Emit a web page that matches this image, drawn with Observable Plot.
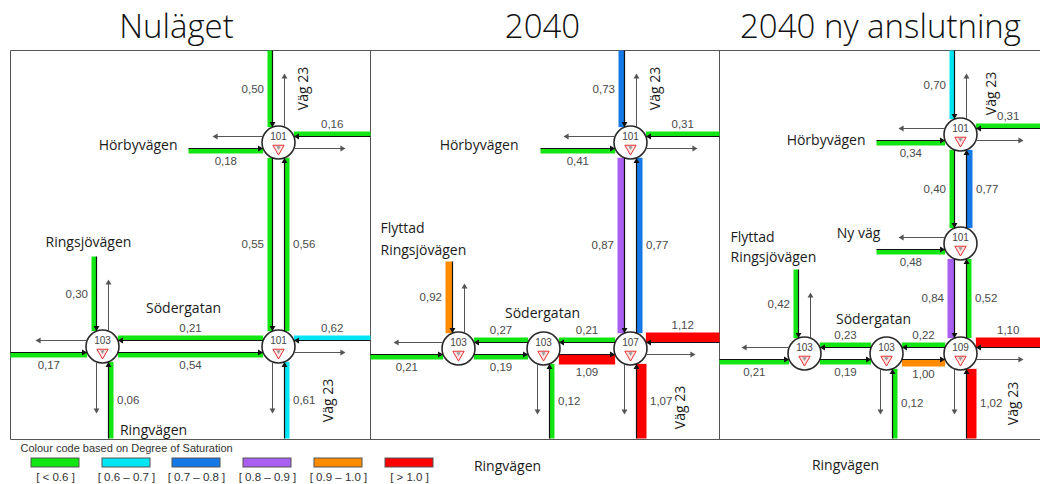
<!DOCTYPE html>
<html><head><meta charset="utf-8">
<script src="https://cdn.jsdelivr.net/npm/d3@7"></script>
<script src="https://cdn.jsdelivr.net/npm/@observablehq/plot@0.6"></script>
<style>body{margin:0;background:#fff}</style>
</head><body><div id="chart"></div>
<script>
// ================= DATA =================
const panelTitles = ["Nuläget", "2040", "2040 ny anslutning"];

// junctions
const nodeIds   = ["1A","1B","1C","2A","2B","2C","2D","3A","3B","3C","3D","3E"];
const nodeNames = ["101","101","103","101","103","103","107","101","101","103","103","109"];

// approaches: junction, side, degree of saturation of the inbound lane
const approachNode  = ["1A","1A","1A","1B","1B","1C","1C","1C",
                       "2A","2A","2A","2D","2D","2C","2B","2B",
                       "3A","3A","3A","3B","3E","3E","3D","3C","3C"];
const approachSide  = ["N","W","E","E","S","N","W","S",
                       "N","W","E","E","S","S","N","W",
                       "N","W","E","W","E","S","S","N","W"];
const approachValue = [0.50,0.18,0.16,0.62,0.61,0.30,0.17,0.06,
                       0.73,0.41,0.31,1.12,1.07,0.12,0.92,0.21,
                       0.70,0.34,0.31,0.48,1.10,1.02,0.12,0.42,0.21];

// links between junctions (from -> to) with degree of saturation
const linkFrom  = ["1A","1B","1B","1C", "2A","2D","2D","2C","2C","2B", "3A","3B","3B","3E","3E","3D","3D","3C"];
const linkTo    = ["1B","1A","1C","1B", "2D","2A","2C","2D","2B","2C", "3B","3A","3E","3B","3D","3E","3C","3D"];
const linkValue = [0.55,0.56,0.21,0.54, 0.87,0.77,0.21,1.09,0.27,0.19, 0.40,0.77,0.84,0.52,0.22,1.00,0.23,0.19];

// road names
const roadNames = ["Hörbyvägen","Ringsjövägen","Södergatan","Ringvägen","Väg 23","Väg 23",
                   "Hörbyvägen","Flyttad","Ringsjövägen","Södergatan","Ringvägen","Väg 23","Väg 23",
                   "Hörbyvägen","Ny väg","Flyttad","Ringsjövägen","Södergatan","Ringvägen","Väg 23","Väg 23"];

// legend
const legendTitle = "Colour code based on Degree of Saturation";
const dosLabels = ["[ < 0.6 ]","[ 0.6 – 0.7 ]","[ 0.7 – 0.8 ]","[ 0.8 – 0.9 ]","[ 0.9 – 1.0 ]","[ > 1.0 ]"];
const dosThresholds = [0.6, 0.7, 0.8, 0.9, 1.0];

// ================= LAYOUT / STYLE =================
const dosColors = ["#12e612","#00e6f5","#1478e6","#a95ff0","#ff8c00","#ff0000"];
const bandWidth = [5,5,6,7,7,10];
const panelEdges = [10, 370, 719, 1040];
const frameTop = 50, frameBottom = 439;
const titleX = [176, 542, 880];
const nodeX = [278,278,102, 630,458,543,630, 960,960,804,886,960];
const nodeY = [142,346,346, 142,348,348,348, 134,243,353,353,353];
const approachFar    = [50,188,370,370,438,256,10,438,
                        50,540,719,719,438,438,261,370,
                        50,876,1040,876,1040,438,438,269,719];
const approachOutEnd = [73,212,345,345,413,279,35,413,
                        73,563,697,695,414,414,283,393,
                        73,898,1023,898,1023,414,414,292,741];
const roadX = [177,88,183,153,303,328, 518,380,380,542,507,655,680, 865,858,730,730,873,845,991,1013];
const roadY = [145,242,308,430,88,400, 145,228,250,313,466,88,407, 140,233,237,257,319,465,93,403];
const roadAnchor = ["end","middle","middle","middle","middle","middle",
                    "end","start","start","middle","middle","middle","middle",
                    "end","middle","start","start","middle","middle","middle","middle"];
const legendX = [31,102,172,243,314,385];

// ================= GEOMETRY =================
const L = 6, R = 16.5, H = Math.sqrt(R*R - L*L), TIP = 3.4;
const cat = v => d3.bisectLeft(dosThresholds, v);
const fmt = v => v.toFixed(2).replace(".", ",");
const dirVec = {down:[0,1], up:[0,-1], east:[1,0], west:[-1,0]};
const dirRot = {up:0, east:90, down:180, west:270};
const node = id => { const i = nodeIds.indexOf(id); return {x: nodeX[i], y: nodeY[i]}; };
function seg(dir, fixed, a, b) {
  return (dir === "down" || dir === "up")
    ? {dir, x1: fixed, x2: fixed, y1: a, y2: b}
    : {dir, y1: fixed, y2: fixed, x1: a, x2: b};
}
const lanes = [], outs = [];
approachNode.forEach((id, i) => {
  const {x: cx, y: cy} = node(id);
  const s = approachSide[i], f = approachFar[i], o = approachOutEnd[i];
  let inn, out;
  if (s === "N") { inn = seg("down", cx - L, f, cy - H); out = seg("up", cx + L, cy - H, o); }
  if (s === "S") { inn = seg("up", cx + L, f, cy + H); out = seg("down", cx - L, cy + H, o); }
  if (s === "W") { inn = seg("east", cy + L, f, cx - H); out = seg("west", cy - L, cx - H, o); }
  if (s === "E") { inn = seg("west", cy - L, f, cx + H); out = seg("east", cy + L, cx + H, o); }
  lanes.push({...inn, value: approachValue[i]});
  outs.push(out);
});
linkFrom.forEach((a, i) => {
  const A = node(a), B = node(linkTo[i]);
  let s;
  if (B.y > A.y) s = seg("down", A.x - L, A.y + H, B.y - H);
  else if (B.y < A.y) s = seg("up", A.x + L, A.y - H, B.y + H);
  else if (B.x > A.x) s = seg("east", A.y + L, A.x + H, B.x - H);
  else s = seg("west", A.y - L, A.x - H, B.x + H);
  lanes.push({...s, value: linkValue[i]});
});
function tipify(d) {
  const [ux, uy] = dirVec[d.dir];
  d.ex = d.x2 - ux * TIP; d.ey = d.y2 - uy * TIP; d.rot = dirRot[d.dir];
  return d;
}
lanes.forEach(d => {
  tipify(d);
  d.cat = cat(d.value); d.w = bandWidth[d.cat];
  const [ux, uy] = dirVec[d.dir];
  const nx = -uy, ny = ux;
  const off = d.w / 2;
  d.bx1 = d.x1 + nx * off; d.bx2 = d.x2 + nx * off;
  d.by1 = d.y1 + ny * off; d.by2 = d.y2 + ny * off;
  d.label = fmt(d.value);
  const mx = (d.x1 + d.x2) / 2, my = (d.y1 + d.y2) / 2;
  if (nx !== 0) { d.lx = d.x1 + nx * (d.w + 3.5); d.ly = my; d.anchor = nx < 0 ? "end" : "start"; }
  else { d.lx = mx; d.ly = d.y1 + ny * (d.w + 7.5); d.anchor = "middle"; }
});
outs.forEach(tipify);
const nodes = nodeIds.map((id, i) => ({id, name: nodeNames[i], x: nodeX[i], y: nodeY[i]}));
const frame = [
  {x1: panelEdges[0], y1: frameTop, x2: panelEdges[3], y2: frameTop},
  {x1: panelEdges[0], y1: frameBottom, x2: panelEdges[3], y2: frameBottom},
  ...panelEdges.slice(0, 3).map(x => ({x1: x, y1: frameTop, x2: x, y2: frameBottom}))
];
const roads = roadNames.map((t, i) => ({t, x: roadX[i], y: roadY[i], anchor: roadAnchor[i]}));
const titles = panelTitles.map((t, i) => ({t, x: titleX[i], y: 27}));
const legend = dosLabels.map((t, i) => ({t, i, x1: legendX[i], x2: legendX[i] + 48}));

const roadFont = {fontFamily: "Open Sans", fontSize: 14, fill: "#1a1a1a"};
const valFont = {fontFamily: "Liberation Sans", fontSize: 11.5, fill: "#4a4a4a"};

const chart = Plot.plot({
  width: 1040, height: 484, margin: 0,
  x: {domain: [0, 1040], range: [0, 1040], axis: null},
  y: {domain: [0, 484], range: [0, 484], axis: null},
  color: {type: "ordinal", domain: [0,1,2,3,4,5], range: dosColors},
  style: {background: "#fff", fontFamily: "Liberation Sans"},
  marks: [
    Plot.link(frame, {x1: "x1", y1: "y1", x2: "x2", y2: "y2", stroke: "#555", strokeWidth: 1}),
    Plot.link(lanes, {x1: "bx1", y1: "by1", x2: "bx2", y2: "by2", stroke: "cat", strokeWidth: "w", strokeLinecap: "butt"}),
    Plot.dot(nodes, {x: "x", y: "y", r: R, fill: "#fff", stroke: "#2a2a2a", strokeWidth: 1.6}),
    Plot.link(outs, {x1: "x1", y1: "y1", x2: "ex", y2: "ey", stroke: "#555", strokeWidth: 1}),
    Plot.dot(outs, {x: "ex", y: "ey", symbol: "triangle", rotate: "rot", r: 2.2, fill: "#555", stroke: null}),
    Plot.link(lanes, {x1: "x1", y1: "y1", x2: "ex", y2: "ey", stroke: "#111", strokeWidth: 1.2}),
    Plot.dot(lanes, {x: "ex", y: "ey", symbol: "triangle", rotate: "rot", r: 2.2, fill: "#111", stroke: null}),
    Plot.text(nodes, {x: "x", y: "y", dy: -6, text: "name", fontSize: 10, fill: "#444", fontFamily: "Liberation Sans"}),
    Plot.dot(nodes, {x: "x", y: "y", dy: 6, symbol: "triangle", rotate: 180, r: 4.2, fill: "#fbe3e3", stroke: "#e53030", strokeWidth: 1}),
    Plot.dot(nodes, {x: "x", y: "y", dy: 5, symbol: "triangle", rotate: 180, r: 1.6, fill: "#999", stroke: null}),
    ...["start","middle","end"].map(a => Plot.text(lanes.filter(d => d.anchor === a), {x: "lx", y: "ly", text: "label", textAnchor: a, ...valFont})),
    ...["start","middle","end"].map(a => Plot.text(roads.filter(d => d.anchor === a && d.t !== "Väg 23"), {x: "x", y: "y", text: "t", textAnchor: a, ...roadFont})),
    Plot.text(roads.filter(d => d.t === "Väg 23"), {x: "x", y: "y", text: "t", rotate: -90, ...roadFont}),
    Plot.text(titles, {x: "x", y: "y", text: "t", fontFamily: "Open Sans", fontWeight: 300, fontSize: 33, fill: "#111"}),
    Plot.text([legendTitle], {x: 20, y: 448, text: d => d, textAnchor: "start", fontSize: 11, fill: "#333", fontFamily: "Liberation Sans"}),
    Plot.rect(legend, {x1: "x1", x2: "x2", y1: 458, y2: 467, fill: "i", stroke: "#555", strokeWidth: 1}),
    Plot.text(legend, {x: d => (d.x1 + d.x2) / 2, y: 477, text: "t", fontSize: 11.5, fill: "#333", fontFamily: "Liberation Sans"})
  ]
});
document.getElementById("chart").append(chart);
</script>
</body></html>
